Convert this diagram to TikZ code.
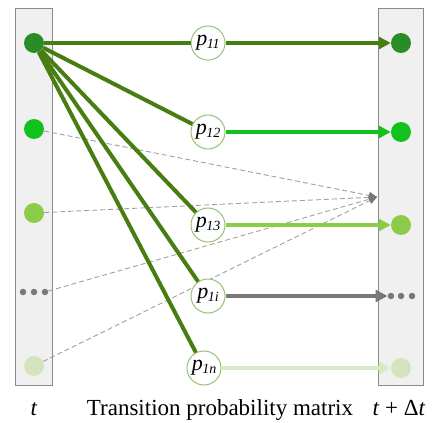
\documentclass[tikz,border=0pt]{standalone}
\usepackage{fontspec}
\setmainfont{Liberation Serif}
\usetikzlibrary{arrows.meta}
\definecolor{cA}{RGB}{42,140,36}
\definecolor{cB}{RGB}{17,194,30}
\definecolor{cC}{RGB}{140,204,72}
\definecolor{cG}{RGB}{120,120,120}
\definecolor{cE}{RGB}{214,228,190}
\definecolor{cOl}{RGB}{72,125,18}
\definecolor{cPale}{RGB}{215,236,195}
\definecolor{cRing}{RGB}{150,195,120}
\definecolor{cBar}{RGB}{240,240,240}
\definecolor{cBarLine}{RGB}{138,138,138}
\newcommand\plab[1]{\textit{p}\kern-0.5pt\raisebox{-3pt}{\fontsize{14}{14}\selectfont\textit{#1}}}
\begin{document}
\begin{tikzpicture}[x=1pt,y=-1pt,
  barbox/.style={draw=cBarLine,fill=cBar,line width=1pt},
  bigdot/.style={circle,minimum size=20pt,inner sep=0pt},
  smalldot/.style={circle,minimum size=6.5pt,inner sep=0pt,fill=cG},
  pnode/.style={circle,draw=cRing,fill=white,line width=1pt,minimum size=34pt,inner sep=0pt,font=\fontsize{22}{22}\selectfont},
  gline/.style={draw=cOl,line width=4pt},
  arr/.style={line width=3.5pt,-{Triangle[length=12pt,width=12pt]}},
  dline/.style={draw=cG!70,dashed,dash pattern=on 5pt off 3pt,line width=0.9pt,-{Triangle[length=8pt,width=7pt,fill=cG,color=cG]}},
  lbl/.style={anchor=base,font=\fontsize{23}{25}\selectfont,inner sep=0pt}
]
\useasboundingbox (0,0) rectangle (432,423);
% bars
\draw[barbox] (15,8) rectangle (52,385);
\draw[barbox] (378,8) rectangle (423,385);
% left nodes
\node[bigdot,fill=cA] (a1) at (34,43) {};
\node[bigdot,fill=cB] (a2) at (34,129) {};
\node[bigdot,fill=cC] (a3) at (34,213) {};
\node[smalldot] (a4l) at (23,292) {};
\node[smalldot] (a4m) at (34,292) {};
\node[smalldot] (a4r) at (45,292) {};
\node[bigdot,fill=cE] (a5) at (34,366) {};
% right nodes
\node[bigdot,fill=cA] (b1) at (401,43) {};
\node[bigdot,fill=cB] (b2) at (401,132) {};
\node[bigdot,fill=cC] (b3) at (401,225) {};
\node[smalldot] (b4l) at (391,296) {};
\node[smalldot] (b4m) at (401,296) {};
\node[smalldot] (b4r) at (412,296) {};
\node[bigdot,fill=cE] (b5) at (401,368) {};
% convergence point
\coordinate (conv) at (377,197);
% dashed lines
\draw[dline] (a2) -- (conv);
\draw[dline] (a3) -- (conv);
\draw[dline] (a4r) -- (conv);
\draw[dline] (a5) -- (conv);
% p nodes
\node[pnode] (p1) at (208,43) {\plab{11}};
\node[pnode] (p2) at (208,132) {\plab{12}};
\node[pnode] (p3) at (208,225) {\plab{13}};
\node[pnode] (p4) at (208,296) {\plab{1i}};
\node[pnode] (p5) at (204,368) {\plab{1n}};
% green lines from top-left node
\draw[gline] (a1) -- (p1);
\draw[gline] (a1) -- (p2);
\draw[gline] (a1) -- (p3);
\draw[gline] (a1) -- (p4);
\draw[gline] (a1) -- (p5);
% arrows to right
\draw[arr,cOl] (p1) -- (b1);
\draw[arr,cB] (p2) -- (b2);
\draw[arr,cC] (p3) -- (b3);
\draw[arr,cG] (p4) -- (b4l);
\draw[arr,cPale] (p5) -- (b5);
% labels
\node[lbl] (lt) at (34,415) {\textit{t}};
\node[lbl] (lm) at (220,415) {Transition probability matrix};
\node[lbl] (lr) at (399,415) {\textit{t} + Δ\textit{t}};
\end{tikzpicture}
\end{document}
